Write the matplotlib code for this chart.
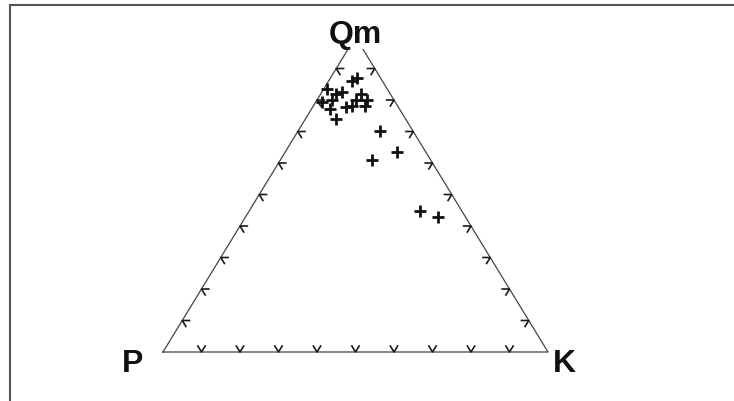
import matplotlib
matplotlib.use("Agg")
import matplotlib.pyplot as plt
from matplotlib.lines import Line2D

# Qm-P-K modal composition (%)
qm = [86.0, 87.0, 83.5, 82.0, 82.5, 82.0, 79.4, 80.0, 77.8, 78.0, 80.0, 78.0,
      80.0, 77.0, 74.0, 70.3, 61.0, 63.4, 44.9, 42.8]
p = [8.0, 6.0, 15.6, 14.0, 12.3, 7.5, 19.0, 16.0, 13.6, 12.0, 10.0, 8.5,
     7.0, 18.0, 18.0, 8.5, 15.2, 7.4, 10.8, 7.3]
k = [6.0, 7.0, 0.9, 4.0, 5.2, 10.5, 1.6, 4.0, 8.6, 10.0, 10.0, 13.5,
     13.0, 5.0, 8.0, 21.2, 23.8, 29.2, 44.3, 49.9]

tick_fracs = [i / 10 for i in range(1, 10)]
vertex_labels = ["Qm", "P", "K"]

W, H = 734, 402
fig = plt.figure(figsize=(W / 100, H / 100), dpi=100)
fig.patch.set_facecolor("white")

# triangle: P at (163,353), K at (548,353), apex at y=38 (pixels)
ax = fig.add_axes([163 / W, (H - 353) / H, 385 / W, 315 / H])
ax.set_xlim(0, 1)
ax.set_ylim(0, 1)
ax.axis("off")

# frame (only top and left edges visible)
fig.add_artist(Line2D([9.5 / W, 1], [1 - 5.5 / H, 1 - 5.5 / H], transform=fig.transFigure,
                      color="#555555", lw=1.5))
fig.add_artist(Line2D([9.5 / W, 9.5 / W], [0, 1 - 5.5 / H], transform=fig.transFigure,
                      color="#555555", lw=1.5))

# triangle edges
ax.plot([0, 1, 0.5, 0], [0, 0, 1, 0], color="#444444", lw=0.9, clip_on=False, zorder=2)

# ticks: short arms parallel to the other two sides
t = 0.019
tk = dict(color="#1a1a1a", lw=1.2, clip_on=False, zorder=2)
for f in tick_fracs:
    # bottom edge (P-K)
    ax.plot([f - 0.5 * t, f, f + 0.5 * t], [t, 0, t], **tk)
    # left edge (P-Qm)
    x0, y0 = f / 2, f
    ax.plot([x0 + t, x0, x0 + 0.5 * t], [y0, y0, y0 - t], **tk)
    # right edge (K-Qm)
    x1, y1 = 1 - f / 2, f
    ax.plot([x1 - t, x1, x1 - 0.5 * t], [y1, y1, y1 - t], **tk)

# data points
xs, ys = [], []
for a, b, c in zip(qm, p, k):
    s = a + b + c
    xs.append(c / s + a / s / 2)
    ys.append(a / s)
ax.plot(xs, ys, "+", color="#111111", ms=9, mew=2.0, clip_on=False, zorder=3)

# vertex labels
lab = dict(fontsize=23, fontweight="bold", family="Liberation Sans", color="#111111",
           ha="center", va="center", zorder=5)
ax.text(0.5, 1.0 + 3 / 315, vertex_labels[0], transform=ax.transAxes,
        bbox=dict(facecolor="white", edgecolor="none", pad=0.0), **lab)
ax.text((132.7 - 163) / 385, -11.5 / 315, vertex_labels[1], transform=ax.transAxes, **lab)
ax.text((564 - 163) / 385, -11.5 / 315, vertex_labels[2], transform=ax.transAxes, **lab)

fig.savefig("out.png", dpi=100, facecolor="white")
